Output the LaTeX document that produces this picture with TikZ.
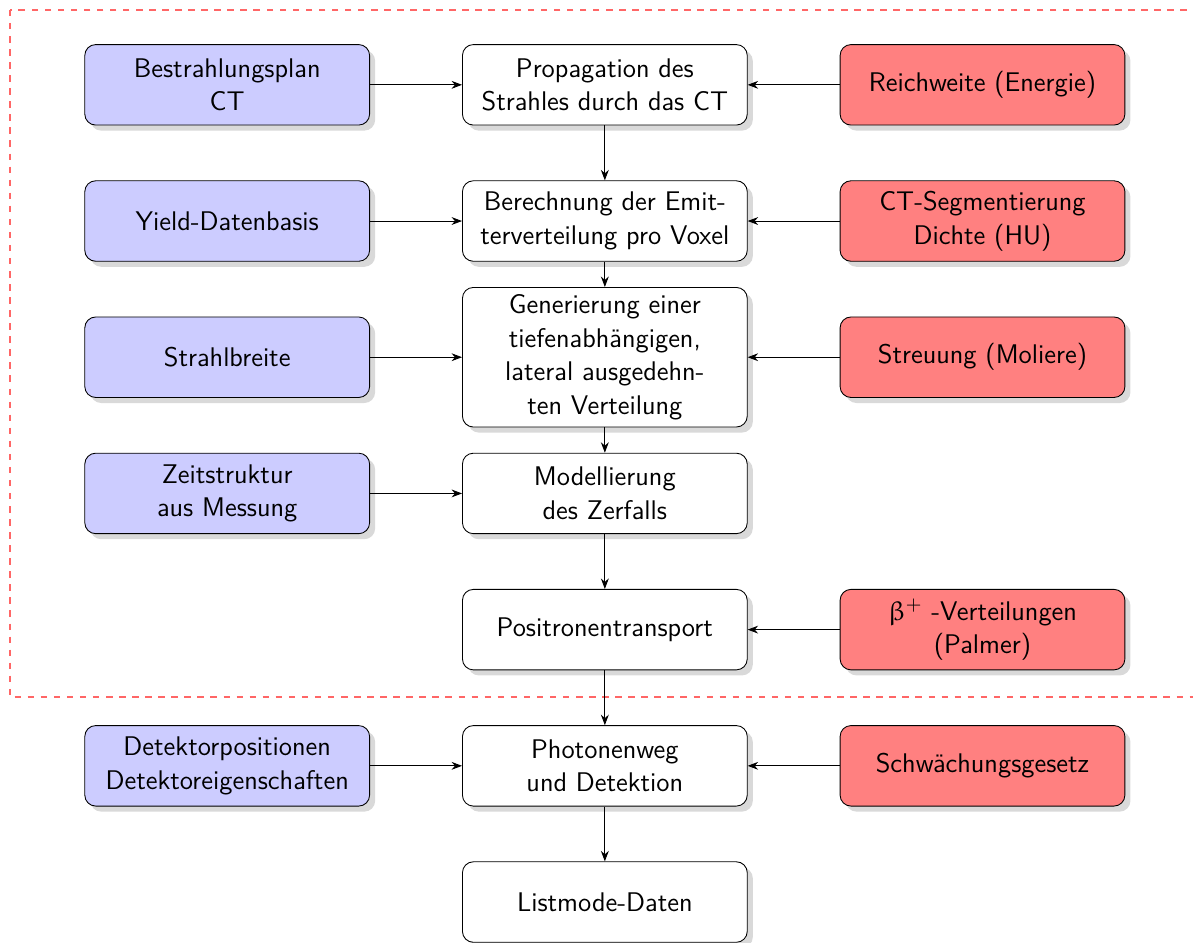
\documentclass[tikz,border=0pt]{standalone}
\usepackage{upgreek}
\usetikzlibrary{arrows.meta, positioning, shadows}
\tikzset{
  mainbox/.style={rectangle, rounded corners=5pt, minimum width=4.6cm, minimum height=1.3cm,
    text centered, align=center, font=\fontsize{12.4}{15.4}\selectfont\sffamily, draw=black,
    drop shadow={shadow xshift=0.09cm, shadow yshift=-0.09cm, opacity=0.3}},
  whitebox/.style={mainbox, fill=white},
  bluebox/.style={mainbox, fill=blue!20},
  redbox/.style={mainbox, fill=red!50},
  arrow/.style={-Stealth, black},
  framebox/.style={draw=red!60, dashed, line width=0.6pt}
}
\begin{document}
\begin{tikzpicture}[node distance=2.2cm and 6.1cm, on grid]
  \useasboundingbox (-9.77,1.37) rectangle (9.50,-13.86);
  % middle column
  \node[whitebox] (prop) {Propagation des\\Strahles durch das CT};
  \node[whitebox, below=of prop]  (emit)  {Berechnung der Emit-\\terverteilung pro Voxel};
  \node[whitebox, below=of emit]  (dist)  {Generierung einer\\tiefenabhängigen,\\lateral ausgedehn-\\ten Verteilung};
  \node[whitebox, below=of dist]  (decay) {Modellierung\\des Zerfalls};
  \node[whitebox, below=of decay] (pos)   {Positronentransport};
  \node[whitebox, below=of pos]   (phot)  {Photonenweg\\und Detektion};
  \node[whitebox, below=of phot]  (list)  {Listmode-Daten};
  % inputs left
  \node[bluebox, left=of prop]  (plan)  {Bestrahlungsplan\\CT};
  \node[bluebox, left=of emit]  (yield) {Yield-Datenbasis};
  \node[bluebox, left=of dist]  (width) {Strahlbreite};
  \node[bluebox, left=of decay] (time)  {Zeitstruktur\\aus Messung};
  \node[bluebox, left=of phot]  (det)   {Detektorpositionen\\Detektoreigenschaften};
  % inputs right
  \node[redbox, right=of prop] (range) {Reichweite (Energie)};
  \node[redbox, right=of emit] (seg)   {CT-Segmentierung\\Dichte (HU)};
  \node[redbox, right=of dist] (scat)  {Streuung (Moliere)};
  \node[redbox, right=of pos]  (beta)  {$\upbeta^+$ -Verteilungen\\(Palmer)};
  \node[redbox, right=of phot] (att)   {Schwächungsgesetz};
  % simulated part
  \draw[framebox] (-9.61,1.21) rectangle (10.2,-9.89);
  \draw[arrow] (prop)  -- (emit);
  \draw[arrow] (emit)  -- (dist);
  \draw[arrow] (dist)  -- (decay);
  \draw[arrow] (decay) -- (pos);
  \draw[arrow] (pos)   -- (phot);
  \draw[arrow] (phot)  -- (list);
  \draw[arrow] (plan)  -- (prop);
  \draw[arrow] (yield) -- (emit);
  \draw[arrow] (width) -- (dist);
  \draw[arrow] (time)  -- (decay);
  \draw[arrow] (det)   -- (phot);
  \draw[arrow] (range) -- (prop);
  \draw[arrow] (seg)   -- (emit);
  \draw[arrow] (scat)  -- (dist);
  \draw[arrow] (beta)  -- (pos);
  \draw[arrow] (att)   -- (phot);
\end{tikzpicture}
\end{document}
